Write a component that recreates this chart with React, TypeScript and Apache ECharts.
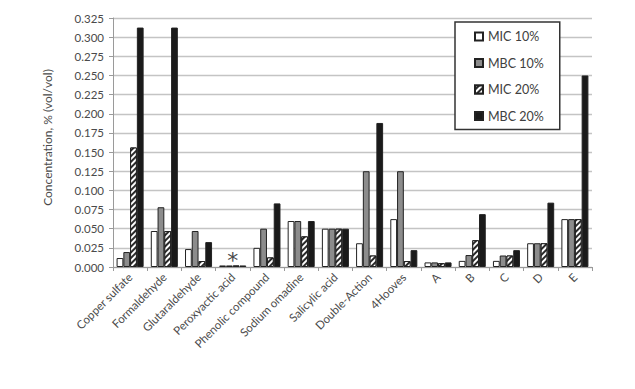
import React, { useEffect, useRef } from "react";
import * as echarts from "echarts";

const categories = [
  "Copper sulfate", "Formaldehyde", "Glutaraldehyde", "Peroxyactic acid",
  "Phenolic compound", "Sodium omadine", "Salicylic acid", "Double-Action",
  "4Hooves", "A", "B", "C", "D", "E",
];
const mic10 = [0.0117, 0.047, 0.0234, 0.002, 0.025, 0.06, 0.05, 0.031, 0.0625, 0.006, 0.008, 0.008, 0.031, 0.0625];
const mbc10 = [0.0195, 0.078, 0.047, 0.002, 0.05, 0.06, 0.05, 0.125, 0.125, 0.006, 0.0156, 0.015, 0.031, 0.0625];
const mic20 = [0.156, 0.047, 0.0078, 0.002, 0.0125, 0.04, 0.05, 0.015, 0.0078, 0.005, 0.035, 0.015, 0.031, 0.0625];
const mbc20 = [0.3125, 0.3125, 0.0325, 0.002, 0.083, 0.06, 0.05, 0.188, 0.022, 0.006, 0.069, 0.022, 0.084, 0.25];
const seriesNames = ["MIC 10%", "MBC 10%", "MIC 20%", "MBC 20%"];
const yTicks = { min: 0, max: 0.325, interval: 0.025 };
const asteriskCategory = "Peroxyactic acid";

const FONT = "Lato";

export default function App() {
  const ref = useRef<HTMLDivElement>(null);
  useEffect(() => {
    if (!ref.current) return;
    const chart = echarts.init(ref.current, null, { renderer: "svg" });
    const border = { borderColor: "#222", borderWidth: 1 };
    const mbc10Data = mbc10.map((v, i) =>
      categories[i] === asteriskCategory
        ? {
            value: v,
            label: {
              show: true,
              position: "top",
              formatter: "*",
              fontSize: 22,
              color: "#4a4a4a",
              offset: [3.5, 11],
              fontFamily: "DejaVu Sans",
            },
          }
        : v
    );
    chart.setOption({
      animation: false,
      backgroundColor: "#fff",
      textStyle: { fontFamily: FONT },
      grid: { left: 113, right: 43, top: 18, bottom: 122, containLabel: false },
      legend: {
        orient: "vertical",
        left: 455,
        top: 22,
        data: seriesNames,
        itemWidth: 8,
        itemHeight: 8,
        itemGap: 13.5,
        padding: [8, 16, 7, 19],
        backgroundColor: "#fff",
        borderColor: "#333",
        borderWidth: 1.5,
        borderRadius: 0,
        textStyle: { fontSize: 12.5, color: "#404040", fontFamily: FONT },
        icon: "rect",
        z: 10,
      },
      xAxis: {
        type: "category",
        data: categories,
        axisLine: { lineStyle: { color: "#9a9a9a", width: 1 } },
        axisTick: { show: true, length: 4, lineStyle: { color: "#9a9a9a" } },
        axisLabel: { rotate: 45, fontSize: 11.5, color: "#4a4a4a", margin: 8, interval: 0, fontFamily: FONT },
      },
      yAxis: {
        type: "value",
        min: yTicks.min,
        max: yTicks.max,
        interval: yTicks.interval,
        name: "Concentration, % (vol/vol)",
        nameLocation: "middle",
        nameGap: 60,
        nameTextStyle: { fontSize: 12, color: "#4a4a4a", fontFamily: FONT, padding: [0, 0, 0, 10] },
        axisLine: { show: true, lineStyle: { color: "#9a9a9a" } },
        axisTick: { show: true, length: 4, lineStyle: { color: "#9a9a9a" } },
        axisLabel: { fontSize: 11.5, color: "#4a4a4a", margin: 9, formatter: (v: number) => v.toFixed(3), fontFamily: FONT },
        splitLine: { lineStyle: { color: "#c4c4c4", width: 1.3 } },
      },
      series: [
        { name: seriesNames[0], type: "bar", data: mic10, barGap: "0%", barCategoryGap: "21%", itemStyle: { color: "#ffffff", ...border } },
        { name: seriesNames[1], type: "bar", data: mbc10Data, itemStyle: { color: "#8c8c8c", ...border } },
        {
          name: seriesNames[2],
          type: "bar",
          data: mic20,
          itemStyle: {
            color: "#2a2a2a",
            ...border,
            decal: {
              symbol: "rect",
              symbolSize: 1,
              color: "#ffffff",
              dashArrayX: [1, 0],
              dashArrayY: [2, 2],
              rotation: -Math.PI / 4,
            },
          },
        },
        { name: seriesNames[3], type: "bar", data: mbc20, itemStyle: { color: "#1a1a1a", ...border } },
      ],
    });
    return () => chart.dispose();
  }, []);
  return (
    <div
      ref={ref}
      style={{ position: "absolute", left: 0, top: 0, width: 635, height: 389 }}
    />
  );
}
